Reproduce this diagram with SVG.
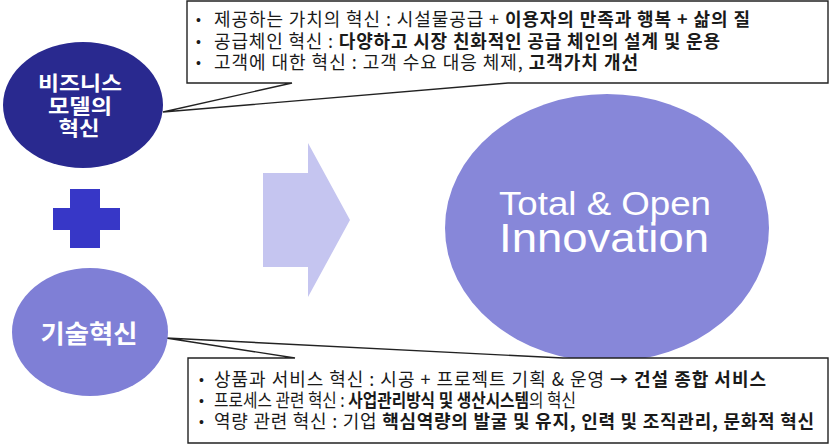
<svg xmlns="http://www.w3.org/2000/svg" width="830" height="444" viewBox="0 0 830 444">
<style>
.call{fill:#ffffff;stroke:#222222;stroke-width:1.4;stroke-linejoin:miter}
.t{font-family:"Noto Sans CJK KR","Noto Sans",sans-serif;font-size:18px;fill:#1a1a1a}
.b{font-weight:700}
.bul{font-family:"Liberation Sans",Arial,sans-serif;font-size:14px;fill:#1a1a1a}
.w{font-family:"Noto Sans CJK KR","Noto Sans",sans-serif;font-weight:700;fill:#ffffff;text-anchor:middle}
.big{font-family:"Liberation Sans",Arial,sans-serif;fill:#ffffff;text-anchor:middle}
</style>
<rect width="830" height="444" fill="#ffffff"/>

<g id="arrow">
<polygon points="263,173 308,173 308,143 350,220 308,297 308,267 263,267" fill="#c5c5f0"/>
</g>

<g id="innovation">
<ellipse cx="607" cy="228" rx="162" ry="134" fill="#8787d9"/>
<text class="big" x="605" y="215" font-size="33" textLength="212" lengthAdjust="spacingAndGlyphs">Total &amp; Open</text>
<text class="big" x="604" y="252" font-size="40" textLength="210" lengthAdjust="spacingAndGlyphs">Innovation</text>
</g>

<g id="connectors">
<path id="callout-top" class="call" d="M187,1 H828 V83 H508 L163,112 L292,83 H187 Z"/>
<path id="callout-bottom" class="call" d="M188,358 H295 L166,338 L563,358 H828 V443 H188 Z"/>
</g>

<g id="business">
<ellipse cx="83" cy="105" rx="80" ry="63" fill="#29298f"/>
<text class="w" x="80" y="91" font-size="20.5" textLength="84" lengthAdjust="spacingAndGlyphs">비즈니스</text>
<text class="w" x="80" y="113.5" font-size="20.5" textLength="64" lengthAdjust="spacingAndGlyphs">모델의</text>
<text class="w" x="79" y="136" font-size="20.5" textLength="41" lengthAdjust="spacingAndGlyphs">혁신</text>
</g>

<g id="plus">
<rect x="70" y="189" width="30" height="59" fill="#3737c7"/>
<rect x="53" y="208" width="67" height="22" fill="#3737c7"/>
</g>

<g id="tech">
<ellipse cx="90" cy="332" rx="78" ry="64" fill="#7f7fd6"/>
<text class="w" x="89" y="343" font-size="25" textLength="97" lengthAdjust="spacingAndGlyphs">기술혁신</text>
</g>

<g id="top-text">
<text class="bul" x="196" y="25">•</text>
<text class="bul" x="196" y="47">•</text>
<text class="bul" x="196" y="68">•</text>
<text class="t" x="214" y="26" textLength="536" lengthAdjust="spacing">제공하는 가치의 혁신 : 시설물공급 + <tspan class="b">이용자의 만족과 행복 +  삶의 질</tspan></text>
<text class="t" x="214" y="48" textLength="506" lengthAdjust="spacing">공급체인 혁신 : <tspan class="b">다양하고 시장 친화적인 공급 체인의 설계 및 운용</tspan></text>
<text class="t" x="214" y="69" textLength="424" lengthAdjust="spacing">고객에 대한 혁신 : 고객 수요 대응 체제, <tspan class="b">고객가치 개선</tspan></text>
</g>

<g id="bottom-text">
<text class="bul" x="199" y="385">•</text>
<text class="bul" x="199" y="406">•</text>
<text class="bul" x="199" y="427">•</text>
<text class="t" x="214" y="386" textLength="552" lengthAdjust="spacing">상품과 서비스 혁신 : 시공 + 프로젝트 기획 &amp; 운영 <tspan class="b">→ 건설 종합 서비스</tspan></text>
<text class="t" x="214" y="407" font-size="17" textLength="362" lengthAdjust="spacingAndGlyphs">프로세스 관련 혁신 : <tspan class="b">사업관리방식 및 생산시스템</tspan>의 혁신</text>
<text class="t" x="214" y="428" textLength="600" lengthAdjust="spacing">역량 관련 혁신 : 기업 <tspan class="b">핵심역량의 발굴 및 유지, 인력 및 조직관리, 문화적 혁신</tspan></text>
</g>
</svg>
